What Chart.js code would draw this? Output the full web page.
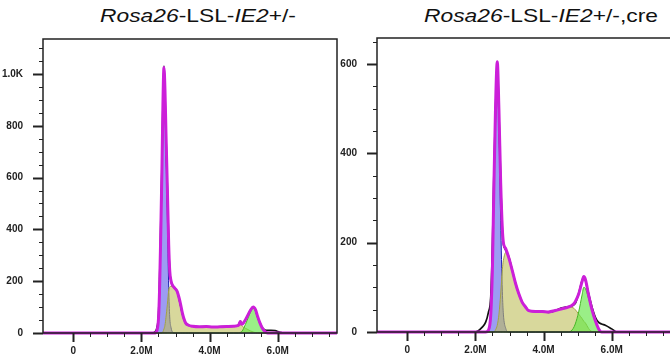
<!DOCTYPE html>
<html>
<head>
<meta charset="utf-8">
<script src="https://cdn.jsdelivr.net/npm/chart.js@4.4.1/dist/chart.umd.min.js"></script>
<style>
  html, body { margin: 0; padding: 0; background: #fff; overflow: hidden; }
  #wrap { position: relative; width: 670px; height: 360px; overflow: hidden; }
  canvas { position: absolute; top: 0; }
  .title {
    position: absolute; top: 5px; height: 20px; line-height: 19px;
    font: 19px Arial, "Liberation Sans", sans-serif; color: #111;
    text-align: center; white-space: nowrap;
    transform: scaleX(1.2); transform-origin: center;
  }
</style>
</head>
<body>
<div id="wrap">
  <div class="title" style="left:68px;width:260px"><i>Rosa26</i>-LSL-<i>IE2</i>+/-</div>
  <div class="title" style="left:411px;width:260px"><i>Rosa26</i>-LSL-<i>IE2</i>+/-,cre</div>
  <canvas id="left" width="345" height="360" style="left:0"></canvas>
  <canvas id="right" width="332" height="360" style="left:340px"></canvas>
</div>
<script>
// DNA content (millions) and counts

// left: Rosa26-LSL-IE2+/-
const leftX = [-0.89, 2.30, 2.40, 2.45, 2.50, 2.53, 2.56, 2.60, 2.63, 2.66, 2.69, 2.72, 2.76, 2.80, 2.83, 2.87, 2.92, 2.96, 3.00, 3.05,
  3.10, 3.15, 3.20, 3.25, 3.30, 3.38, 3.50, 3.70, 3.90, 4.10, 4.30, 4.50, 4.70, 4.85, 4.90, 4.95, 5.00, 5.10, 5.20, 5.28,
  5.35, 5.40, 5.48, 5.55, 5.62, 5.70, 5.80, 5.92, 6.05, 6.17, 7.74];
const leftRaw = [0, 0, 5, 18, 70, 190, 370, 640, 880, 1030, 930, 760, 560, 340, 240, 200, 182, 176, 170, 160,
  135, 105, 75, 52, 38, 30, 26, 24, 25, 23, 24, 25, 26, 30, 46, 35, 40, 62, 88, 100,
  88, 66, 38, 20, 12, 10, 10, 9, 4, 0, 0];
const leftFit = [0, 0, 0, 8, 55, 160, 340, 620, 880, 1025, 940, 770, 560, 340, 240, 200, 182, 176, 170, 160,
  138, 110, 78, 54, 38, 30, 26, 24, 25, 23, 24, 25, 26, 30, 44, 34, 40, 63, 88, 100,
  89, 68, 38, 18, 6, 0, 0, 0, 0, 0, 0];
const leftG1 = [0, 0, 0, 8, 55, 160, 340, 620, 875, 1010, 910, 710, 450, 175, 62, 20, 2, 0, 0, 0,
  0, 0, 0, 0, 0, 0, 0, 0, 0, 0, 0, 0, 0, 0, 0, 0, 0, 0, 0, 0,
  0, 0, 0, 0, 0, 0, 0, 0, 0, 0, 0];
const leftS = [0, 0, 0, 0, 0, 0, 0, 0, 5, 15, 30, 60, 110, 165, 178, 180, 180, 176, 170, 160,
  138, 110, 78, 54, 38, 30, 26, 24, 25, 23, 24, 25, 26, 28, 30, 28, 22, 15, 8, 4,
  1, 0, 0, 0, 0, 0, 0, 0, 0, 0, 0];
const leftG2 = [0, 0, 0, 0, 0, 0, 0, 0, 0, 0, 0, 0, 0, 0, 0, 0, 0, 0, 0, 0,
  0, 0, 0, 0, 0, 0, 0, 0, 0, 0, 0, 0, 0, 0, 2, 6, 18, 48, 80, 96,
  88, 68, 38, 18, 6, 0, 0, 0, 0, 0, 0];

// right: Rosa26-LSL-IE2+/-,cre
const rightX = [-0.89, 1.99, 2.20, 2.30, 2.38, 2.45, 2.50, 2.54, 2.59, 2.64, 2.69, 2.74, 2.79, 2.82, 2.89, 2.98, 3.08, 3.18, 3.27, 3.37,
  3.47, 3.56, 3.76, 3.95, 4.14, 4.34, 4.54, 4.74, 4.87, 4.93, 5.03, 5.13, 5.18, 5.23, 5.32, 5.42, 5.52, 5.61, 5.70, 5.81,
  6.00, 6.15, 7.74];
const rightRaw = [0, 0, 11, 22, 44, 80, 200, 350, 500, 601, 489, 339, 227, 198, 183, 168, 138, 108, 86, 67,
  56, 48, 46, 46, 44, 48, 54, 57, 60, 64, 86, 115, 124, 115, 86, 56, 33, 22, 18, 15,
  7, 0, 0];
const rightFit = [0, 0, 0, 0, 4, 40, 150, 320, 505, 605, 495, 335, 230, 200, 186, 166, 138, 108, 86, 67,
  56, 48, 46, 46, 45, 48, 52, 56, 62, 68, 85, 113, 124, 117, 83, 50, 25, 8, 0, 0,
  0, 0, 0];
const rightG1 = [0, 0, 0, 0, 4, 40, 150, 320, 500, 590, 455, 250, 90, 40, 8, 0, 0, 0, 0, 0,
  0, 0, 0, 0, 0, 0, 0, 0, 0, 0, 0, 0, 0, 0, 0, 0, 0, 0, 0, 0,
  0, 0, 0];
const rightS = [0, 0, 0, 0, 0, 0, 0, 0, 5, 15, 40, 85, 140, 160, 178, 166, 138, 108, 86, 67,
  56, 48, 46, 46, 45, 48, 52, 56, 54, 50, 40, 30, 24, 20, 8, 1, 0, 0, 0, 0,
  0, 0, 0];
const rightG2 = [0, 0, 0, 0, 0, 0, 0, 0, 0, 0, 0, 0, 0, 0, 0, 0, 0, 0, 0, 0,
  0, 0, 0, 0, 0, 0, 0, 0, 8, 18, 45, 83, 100, 97, 75, 49, 25, 8, 0, 0,
  0, 0, 0];

// ticks
const xTickValues = [0, 2, 4, 6];
const xTickLabels = ['0', '2.0M', '4.0M', '6.0M'];
const leftYTickValues = [0, 200, 400, 600, 800, 1000];
const leftYTickLabels = ['0', '200', '400', '600', '800', '1.0K'];
const rightYTickValues = [0, 200, 400, 600];
const rightYTickLabels = ['0', '200', '400', '600'];

const X_MIN = -0.89, X_MAX = 7.74;
const TICK_FONT = { family: 'Arial, "Liberation Sans", sans-serif', size: 10, weight: 'bold' };

// petits traits des axes + cadre
const axisMarks = {
  id: 'axisMarks',
  afterDraw(chart) {
    const { ctx, chartArea: a, scales } = chart;
    ctx.save();
    ctx.strokeStyle = '#222';
    ctx.lineWidth = 1.5;
    ctx.strokeRect(a.left, a.top, a.right - a.left, a.bottom - a.top);
    scales.x.ticks.forEach(t => {
      const px = Math.round(scales.x.getPixelForValue(t.value)) + 0.5;
      const major = t.major;
      ctx.lineWidth = major ? 2 : 1;
      ctx.beginPath();
      ctx.moveTo(px, a.bottom);
      ctx.lineTo(px, a.bottom + (major ? 9 : 4));
      ctx.stroke();
    });
    scales.y.ticks.forEach(t => {
      const py = Math.round(scales.y.getPixelForValue(t.value)) + 0.5;
      const major = t.major;
      ctx.lineWidth = major ? 2 : 1;
      ctx.beginPath();
      ctx.moveTo(a.left, py);
      ctx.lineTo(a.left - (major ? 10 : 4), py);
      ctx.stroke();
    });
    ctx.restore();
  }
};

function tickList(max, step, majors) {
  const out = [];
  for (let i = 0; i * step <= max + 1e-9; i++) {
    const v = Math.round(i * step * 1000) / 1000;
    out.push({ value: v, major: majors.includes(v) });
  }
  return out;
}

function pts(xs, ys) {
  return xs.map((x, i) => ({ x: x, y: ys[i] }));
}

function makeChart(id, xs, s, yMax, yVals, yLabels, box) {
  const line = { pointRadius: 0, cubicInterpolationMode: 'monotone', clip: false };
  return new Chart(document.getElementById(id), {
    type: 'line',
    data: {
      datasets: [
        { ...line, label: 'fit', data: pts(xs, s.fit), borderColor: '#cc1fd9', borderWidth: 3, fill: false, order: 0 },
        { ...line, label: 'data', data: pts(xs, s.raw), borderColor: '#111', borderWidth: 1.7, fill: false, order: 1 },
        { ...line, label: 'G2', data: pts(xs, s.g2), borderColor: '#45b525', borderWidth: 1,
          backgroundColor: 'rgba(100,230,70,0.65)', fill: 'origin', order: 2 },
        { ...line, label: 'S', data: pts(xs, s.s), borderColor: '#a3a343', borderWidth: 1,
          backgroundColor: 'rgba(190,190,90,0.6)', fill: 'origin', order: 3 },
        { ...line, label: 'G1', data: pts(xs, s.g1), borderColor: '#2020b0', borderWidth: 1,
          backgroundColor: 'rgba(90,90,235,0.6)', fill: 'origin', order: 4 }
      ]
    },
    options: {
      responsive: false,
      animation: false,
      devicePixelRatio: 1,
      layout: { padding: { left: 0, top: box.top, right: box.right, bottom: 0 } },
      plugins: { legend: { display: false }, tooltip: { enabled: false }, title: { display: false } },
      scales: {
        x: {
          type: 'linear', min: X_MIN, max: X_MAX,
          grid: { display: false }, border: { display: false },
          afterBuildTicks: sc => { sc.ticks = tickList(7.5, 0.5, xTickValues); },
          afterFit: sc => { sc.height = box.xH; },
          ticks: {
            autoSkip: false, maxRotation: 0, padding: 4, color: '#222', font: TICK_FONT,
            callback: v => { const i = xTickValues.indexOf(v); return i >= 0 ? xTickLabels[i] : ''; }
          }
        },
        y: {
          type: 'linear', min: 0, max: yMax,
          grid: { display: false }, border: { display: false },
          afterBuildTicks: sc => { sc.ticks = tickList(yMax, 50, yVals); },
          afterFit: sc => { sc.width = box.yW; },
          ticks: {
            autoSkip: false, padding: 12, color: '#222', font: TICK_FONT,
            callback: v => { const i = yVals.indexOf(v); return i >= 0 ? yLabels[i] : ''; }
          }
        }
      }
    },
    plugins: [axisMarks]
  });
}

makeChart('left', leftX,
  { raw: leftRaw, fit: leftFit, g1: leftG1, s: leftS, g2: leftG2 },
  1135, leftYTickValues, leftYTickLabels,
  { top: 39, right: 8, yW: 43, xH: 27 });

makeChart('right', rightX,
  { raw: rightRaw, fit: rightFit, g1: rightG1, s: rightS, g2: rightG2 },
  658, rightYTickValues, rightYTickLabels,
  { top: 38, right: 1, yW: 37, xH: 28 });
</script>
</body>
</html>
